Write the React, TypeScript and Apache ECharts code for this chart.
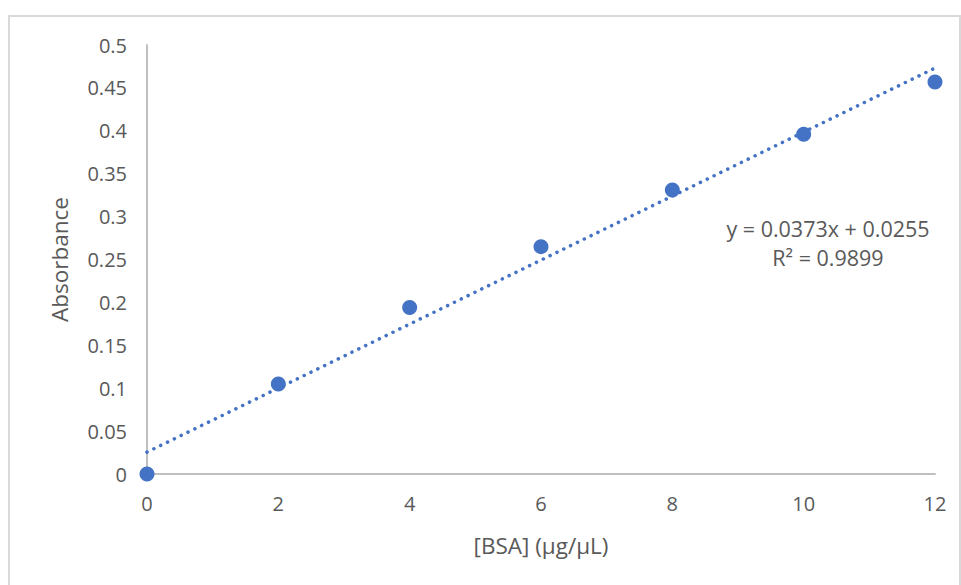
import React, { useEffect, useRef } from "react";
import * as echarts from "echarts";

const concentrations = [0, 2, 4, 6, 8, 10, 12];
const absorbance = [0, 0.105, 0.194, 0.265, 0.331, 0.396, 0.457];
const slope = 0.0373;
const intercept = 0.0255;
const equationLines = ["y = 0.0373x + 0.0255", "R² = 0.9899"];
const xTitle = "[BSA] (µg/µL)";
const yTitle = "Absorbance";

const FONT = "'Open Sans', 'Noto Sans', sans-serif";

export default function App() {
  const ref = useRef<HTMLDivElement>(null);
  useEffect(() => {
    if (!ref.current) return;
    const chart = echarts.init(ref.current, undefined, { renderer: "svg" });
    const trend = [
      [concentrations[0], intercept + slope * concentrations[0]],
      [concentrations[concentrations.length - 1], intercept + slope * concentrations[concentrations.length - 1]],
    ];
    chart.setOption({
      animation: false,
      backgroundColor: "#ffffff",
      grid: { left: 147, right: 26, top: 45, bottom: 111, containLabel: false },
      xAxis: {
        type: "value",
        min: 0,
        max: 12,
        interval: 2,
        name: xTitle,
        nameLocation: "middle",
        nameGap: 60,
        nameTextStyle: { color: "#595959", fontSize: 22.5, fontFamily: FONT },
        axisLine: { show: true, onZero: false, lineStyle: { color: "#bfbfbf", width: 2 } },
        axisTick: { show: false },
        splitLine: { show: false },
        axisLabel: { color: "#595959", fontSize: 20, fontFamily: FONT, margin: 19 },
      },
      yAxis: {
        type: "value",
        min: 0,
        max: 0.5,
        interval: 0.05,
        name: yTitle,
        nameLocation: "middle",
        nameGap: 76,
        nameTextStyle: { color: "#595959", fontSize: 22.5, fontFamily: FONT },
        axisLine: { show: true, lineStyle: { color: "#bfbfbf", width: 2 } },
        axisTick: { show: false },
        splitLine: { show: false },
        axisLabel: {
          color: "#595959",
          fontSize: 20,
          fontFamily: FONT,
          margin: 20,
          formatter: (v: number) => String(parseFloat(v.toFixed(2))),
        },
      },
      series: [
        {
          type: "line",
          data: trend,
          symbol: "none",
          z: 2,
          lineStyle: { color: "#4472C4", width: 3.5, type: [0.1, 7.5], cap: "round", opacity: 1 },
        },
        {
          type: "scatter",
          data: concentrations.map((c, i) => [c, absorbance[i]]),
          symbol: "circle",
          symbolSize: 15,
          z: 3,
          itemStyle: { color: "#4472C4", opacity: 1 },
        },
      ],
      graphic: [
        {
          type: "rect",
          shape: { x: 9, y: 16, width: 951, height: 2000 },
          style: { fill: "none", stroke: "#d9d9d9", lineWidth: 2 },
          silent: true,
        },
        {
          type: "text",
          x: 828,
          y: 228,
          style: {
            text: equationLines[0],
            fill: "#595959",
            fontSize: 21.5,
            fontFamily: FONT,
            align: "center",
            verticalAlign: "middle",
          },
        },
        {
          type: "text",
          x: 828,
          y: 257,
          style: {
            text: equationLines[1],
            fill: "#595959",
            fontSize: 21.5,
            fontFamily: FONT,
            align: "center",
            verticalAlign: "middle",
          },
        },
      ],
    });
    return () => chart.dispose();
  }, []);
  return (
    <div
      ref={ref}
      style={{ position: "fixed", left: 0, top: 0, width: 961, height: 585, background: "#fff" }}
    />
  );
}
